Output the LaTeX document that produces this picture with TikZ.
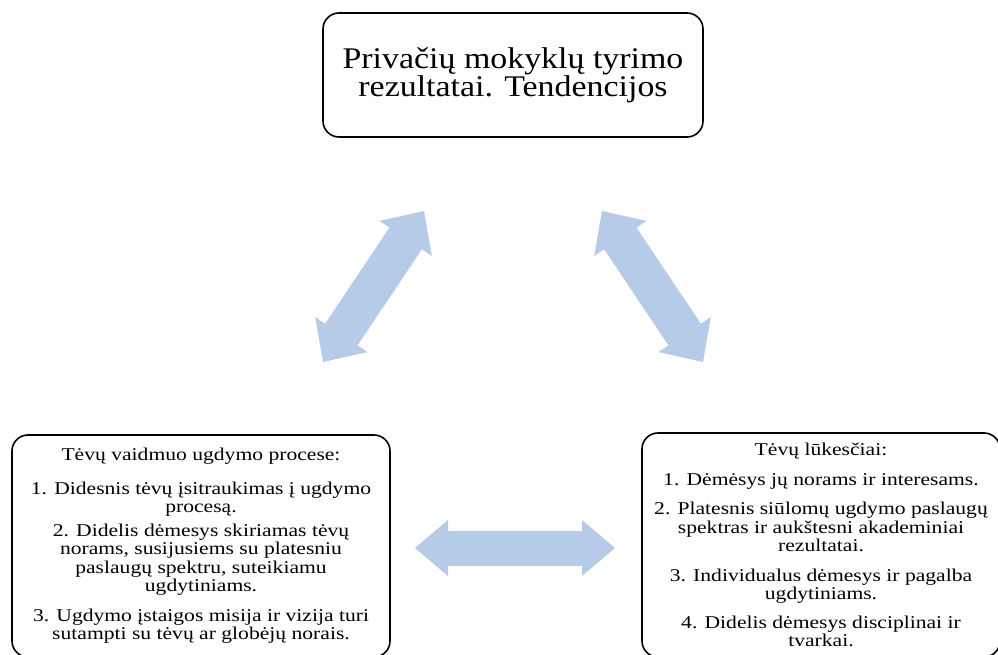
\documentclass[tikz,border=0pt]{standalone}
\usepackage{fontspec}
\setmainfont{Liberation Serif}
\newfontfamily\titlefont[FakeStretch=1.13]{Liberation Serif}
\newfontfamily\listfont[FakeStretch=1.2]{Liberation Serif}
\usetikzlibrary{arrows.meta}
\definecolor{arrowblue}{RGB}{182,203,232}

\begin{document}
\begin{tikzpicture}[x=1pt,y=-1pt,
  box/.style={draw=black,line width=1.6pt,rounded corners=16pt,align=center,inner sep=0pt},
  flatarrow/.style={draw=arrowblue,line width=35pt,
    {Triangle[length=33pt,width=56pt,line width=0pt]}-{Triangle[length=33pt,width=56pt,line width=0pt]}},
  slantarrow/.style={draw=arrowblue,line width=39pt,
    {Triangle[length=33pt,width=63pt,line width=0pt]}-{Triangle[length=33pt,width=63pt,line width=0pt]}}]
  \useasboundingbox (0,0) rectangle (998,655);
  \node[box,minimum width=380pt,minimum height=124pt,font=\titlefont\fontsize{30}{26.7}\selectfont] (results) at (513,75)
    {Privačių mokyklų tyrimo\\rezultatai. Tendencijos};
  \node[box,minimum width=378pt,minimum height=222pt,font=\listfont\fontsize{18}{18.5}\selectfont] (roles) at (201,546)
    {Tėvų vaidmuo ugdymo procese:\\[15pt]
     1. Didesnis tėvų įsitraukimas į ugdymo\\
     procesą.\\[5pt]
     2. Didelis dėmesys skiriamas tėvų\\
     norams, susijusiems su platesniu\\
     paslaugų spektru, suteikiamu\\
     ugdytiniams.\\[11pt]
     3. Ugdymo įstaigos misija ir vizija turi\\
     sutampti su tėvų ar globėjų norais.};
  \node[box,minimum width=358pt,minimum height=224pt,font=\listfont\fontsize{18}{18.5}\selectfont] (expect) at (821,545)
    {Tėvų lūkesčiai:\\[11pt]
     1. Dėmėsys jų norams ir interesams.\\[11pt]
     2. Platesnis siūlomų ugdymo paslaugų\\
     spektras ir aukštesni akademiniai\\
     rezultatai.\\[11pt]
     3. Individualus dėmesys ir pagalba\\
     ugdytiniams.\\[10pt]
     4. Didelis dėmesys disciplinai ir\\
     tvarkai.};
  \coordinate (la) at (323,362);
  \coordinate (lb) at (424,211);
  \coordinate (ra) at (703,362);
  \coordinate (rb) at (602,211);
  \coordinate (ha) at (415,548);
  \coordinate (hb) at (615,548);
  \draw[slantarrow] (la) -- (lb);
  \draw[slantarrow] (ra) -- (rb);
  \draw[flatarrow] (ha) -- (hb);
\end{tikzpicture}
\end{document}
